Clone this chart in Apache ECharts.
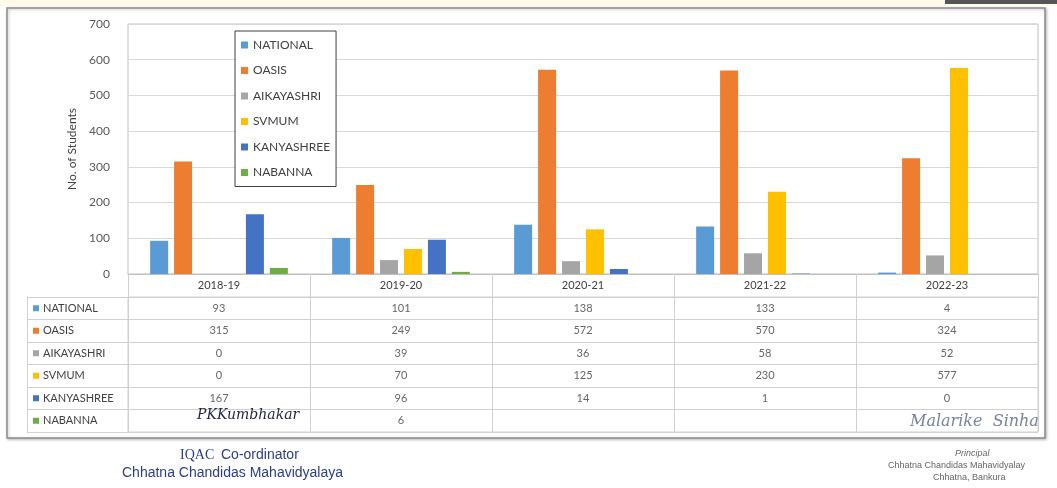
<!DOCTYPE html>
<html><head><meta charset="utf-8">
<script src="https://cdn.jsdelivr.net/npm/echarts@6/dist/echarts.min.js"></script>
<style>html,body{margin:0;padding:0;background:#fff}#c{width:1057px;height:488px}</style>
</head><body><div id="c"></div>
<script>
const categories = ['2018-19','2019-20','2020-21','2021-22','2022-23'];
const seriesNames = ['NATIONAL','OASIS','AIKAYASHRI','SVMUM','KANYASHREE','NABANNA'];
const national   = [93, 101, 138, 133, 4];
const oasis      = [315, 249, 572, 570, 324];
const aikayashri = [0, 39, 36, 58, 52];
const svmum      = [0, 70, 125, 230, 577];
const kanyashree = [167, 96, 14, 1, 0];
const nabanna    = [17, 6, null, null, null];
const yTicks = [0,100,200,300,400,500,600,700];
const colors = ['#5B9BD5','#ED7D31','#A5A5A5','#FFC000','#4472C4','#70AD47'];
// table cell hidden under the signature
const coveredCells = [[0,5]];

const allValues = [national, oasis, aikayashri, svmum, kanyashree, nabanna];
const tableData = [];
allValues.forEach((arr, r) => arr.forEach((v, c) => {
  const hide = coveredCells.some(p => p[0] === c && p[1] === r);
  tableData.push([c, r, hide ? null : v]);
}));

const font = 'Lato, "Open Sans", sans-serif';
const rich = {};
colors.forEach((col, i) => { rich['s' + i] = {backgroundColor: col, width: 6, height: 6}; });
rich.t = {color: '#404040', fontSize: 11, fontFamily: font, padding: [0,0,0,4]};

const chart = echarts.init(document.getElementById('c'));
chart.setOption({
  animation: false,
  textStyle: {fontFamily: font},
  graphic: [
    {type:'rect', shape:{x:0,y:0,width:1057,height:6}, style:{fill:'#fffbe8'}, z:-10},
    {type:'rect', shape:{x:945,y:0,width:112,height:4}, style:{fill:'#555'}, z:-9},
    {type:'rect', shape:{x:7,y:8,width:1038,height:430}, style:{fill:'#fff', stroke:'#8c8c8c', lineWidth:1.5, shadowColor:'rgba(0,0,0,0.25)', shadowBlur:3, shadowOffsetX:1, shadowOffsetY:1}, z:-8},
    {type:'text', left:197, top:408, style:{text:'PKKumbhakar', font:'italic 14px "DejaVu Serif", serif', fill:'#1f2340'}, z:100},
    {type:'text', left:910, top:414, style:{text:'Malarike  Sinha', font:'italic 16px "DejaVu Serif", serif', fill:'#7a84a0'}, z:100},
    {type:'text', left:180, top:448, style:{text:'IQAC', font:'14px "Liberation Serif", serif', fill:'#2b3d8f'}},
    {type:'text', left:221, top:448, style:{text:'Co-ordinator', font:'14px "Liberation Sans", sans-serif', fill:'#2b3d8f'}},
    {type:'text', left:122, top:466, style:{text:'Chhatna Chandidas Mahavidyalaya', font:'14px "Liberation Sans Narrow", "Liberation Sans", sans-serif', fill:'#2b3d8f'}},
    {type:'text', left:955, top:449, style:{text:'Principal', font:'italic 9px "Liberation Sans", sans-serif', fill:'#666'}},
    {type:'text', left:888, top:461, style:{text:'Chhatna Chandidas Mahavidyalay', font:'9px "Liberation Sans", sans-serif', fill:'#666'}},
    {type:'text', left:933, top:473, style:{text:'Chhatna, Bankura', font:'9px "Liberation Sans", sans-serif', fill:'#666'}}
  ],
  legend: {
    data: seriesNames, orient:'vertical', left:235, top:31,
    itemWidth:7, itemHeight:7, itemGap:13.5, icon:'rect',
    padding:[8,6,8,6], borderColor:'#404040', borderWidth:1, backgroundColor:'#fff',
    textStyle:{color:'#404040', fontSize:12, fontFamily:font}
  },
  grid: [
    {left:128, right:19, top:24, bottom:214, show:true, borderColor:'#bfbfbf', borderWidth:1},
    {left:128, right:19, top:297, bottom:56, show:true, borderColor:'#d0d0d0', borderWidth:1}
  ],
  xAxis: [
    {type:'category', gridIndex:0, data:categories,
     axisLine:{lineStyle:{color:'#bfbfbf'}},
     axisTick:{show:true, interval:0, length:23, lineStyle:{color:'#d0d0d0'}},
     axisLabel:{color:'#404040', fontSize:11, margin:6}},
    {type:'category', gridIndex:1, data:categories,
     axisLine:{show:false}, axisTick:{show:false}, axisLabel:{show:false},
     splitLine:{show:true, interval:0, lineStyle:{color:'#d0d0d0'}}}
  ],
  yAxis: [
    {type:'value', gridIndex:0, min:0, max:700, interval:100,
     name:'No. of Students', nameLocation:'middle', nameGap:40, nameRotate:90,
     nameTextStyle:{color:'#404040', fontSize:12},
     axisLine:{show:false}, axisTick:{show:false},
     axisLabel:{color:'#595959', fontSize:12, margin:18, formatter: v => yTicks.includes(v) ? String(v) : ''},
     splitLine:{lineStyle:{color:'#d9d9d9'}}},
    {type:'category', gridIndex:1, data:seriesNames, inverse:true,
     axisLine:{show:true, lineStyle:{color:'#d0d0d0'}},
     axisTick:{show:true, interval:0, length:101, lineStyle:{color:'#d0d0d0'}},
     axisLabel:{align:'left', margin:95, interval:0,
       formatter:(v, i) => '{s' + i + '|}{t|' + v + '}', rich: rich},
     splitLine:{show:true, interval:0, lineStyle:{color:'#d0d0d0'}}},
    {type:'category', gridIndex:1, data:seriesNames, inverse:true, position:'left', offset:101,
     axisLine:{show:true, lineStyle:{color:'#d0d0d0'}}, axisTick:{show:false}, axisLabel:{show:false}}
  ],
  series: seriesNames.map((n, i) => ({
    name:n, type:'bar', xAxisIndex:0, yAxisIndex:0, data: allValues[i],
    barWidth:18, barGap:'33%', itemStyle:{color:colors[i]}
  })).concat([{
    type:'scatter', xAxisIndex:1, yAxisIndex:1, symbolSize:0, silent:true,
    data: tableData,
    label:{show:true, position:'inside', color:'#404040', fontSize:11, fontFamily:font,
      formatter: p => p.value[2] == null ? '' : String(p.value[2])}
  }])
});
</script></body></html>
